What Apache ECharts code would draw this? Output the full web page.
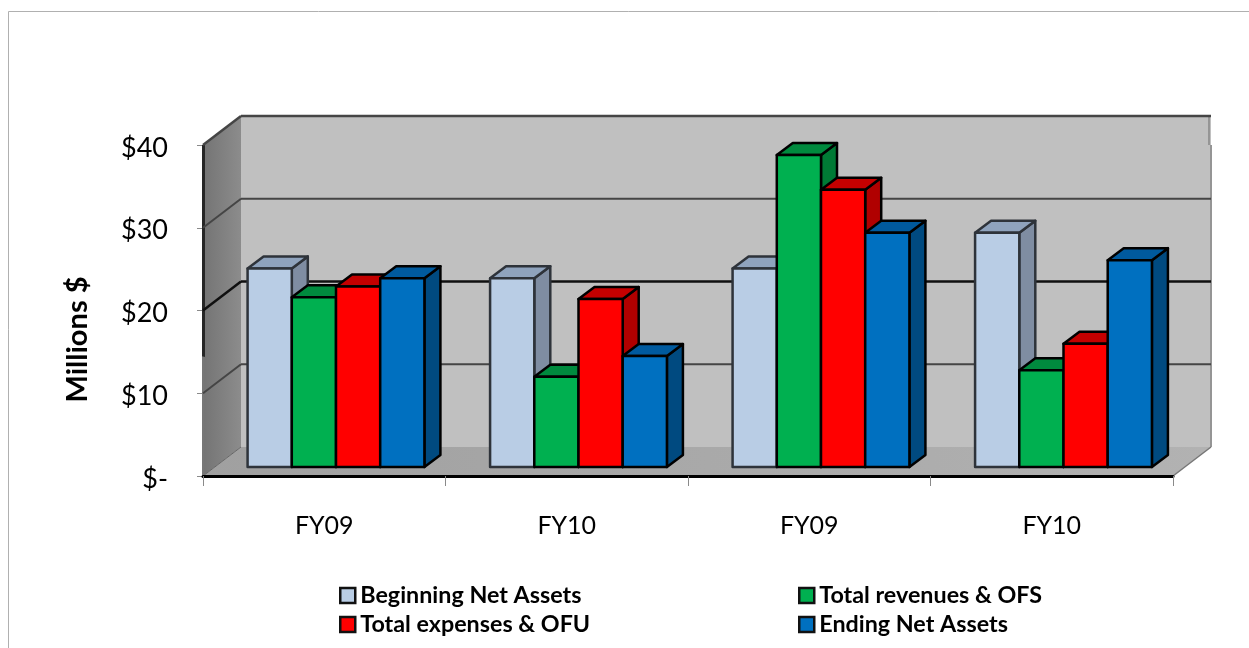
<!DOCTYPE html>
<html>
<head>
<meta charset="utf-8">
<style>html,body{margin:0;padding:0;background:#fff}#c{width:1249px;height:648px}</style>
<script src="https://cdn.jsdelivr.net/npm/echarts@6/dist/echarts.min.js"></script>
</head>
<body>
<div id="c"></div>
<script>
const categories = ['FY09', 'FY10', 'FY09', 'FY10'];
const beginningNetAssets = [24.0, 22.8, 24.0, 28.3];
const totalRevenues = [20.5, 10.9, 37.7, 11.7];
const totalExpenses = [21.8, 20.3, 33.5, 14.9];
const endingNetAssets = [22.8, 13.4, 28.3, 25.0];
const gridValues = [10, 20, 30, 40];

const WALL_DX = 38, WALL_DY = -29;     // depth of the 3D box
const PLANE_DX = 11.75, PLANE_DY = -9; // front plane of the bars inside the box
const BAR_DX = 16, BAR_DY = -12;       // depth of one bar
const BAR_FRAC = 0.1823;               // bar width as share of a category band

const chart = echarts.init(document.getElementById('c'), null, {renderer: 'canvas'});

function renderWalls(params, api) {
  const band = api.size([1, 0])[0];
  const x0 = api.coord([0, 0])[0] - band / 2;
  const x1 = api.coord([categories.length - 1, 0])[0] + band / 2;
  const y0 = api.coord([0, 0])[1];
  const y40 = api.coord([0, 40])[1];
  const dx = WALL_DX, dy = WALL_DY;
  const children = [
    {type: 'polygon', shape: {points: [[x0, y40], [x0 + dx, y40 + dy], [x0 + dx, y0 + dy], [x0, y0]]},
     style: {fill: new echarts.graphic.LinearGradient(0, 0, 1, 0, [{offset: 0, color: '#747474'}, {offset: 1, color: '#8c8c8c'}])}},
    {type: 'rect', shape: {x: x0 + dx, y: y40 + dy, width: x1 - x0, height: y0 - y40},
     style: {fill: '#c0c0c0'}},
    {type: 'polygon', shape: {points: [[x0, y0], [x0 + dx, y0 + dy], [x1 + dx, y0 + dy], [x1, y0]]},
     style: {fill: new echarts.graphic.LinearGradient(0, 0, 1, 0, [{offset: 0, color: '#a0a0a0'}, {offset: 1, color: '#b2b2b2'}])}},
    {type: 'line', shape: {x1: x1 + dx, y1: y40, x2: x1 + dx, y2: y0 + dy},
     style: {stroke: '#959595', lineWidth: 2, fill: null}},
    {type: 'line', shape: {x1: x1 + dx - 2, y1: y40 + dy, x2: x1 + dx - 2, y2: y40},
     style: {stroke: '#959595', lineWidth: 2, fill: null}},
    {type: 'line', shape: {x1: x1, y1: y0, x2: x1 + dx, y2: y0 + dy},
     style: {stroke: '#777777', lineWidth: 1.5, fill: null}},
    {type: 'line', shape: {x1: x0, y1: y0, x2: x0 + dx, y2: y0 + dy},
     style: {stroke: '#666666', lineWidth: 1, fill: null}},
    {type: 'line', shape: {x1: x0 + 0.5, y1: y40, x2: x0 + 0.5, y2: api.coord([0, 14.4])[1]},
     style: {stroke: '#262626', lineWidth: 3, fill: null}},
    {type: 'line', shape: {x1: x0, y1: api.coord([0, 14.4])[1], x2: x0, y2: y0},
     style: {stroke: '#777777', lineWidth: 2, fill: null}}
  ];
  gridValues.forEach(function (v) {
    const y = api.coord([0, v])[1];
    const stroke = v === 20 ? '#101010' : '#454545';
    const lw = v === 40 ? 2.5 : (v === 20 ? 2.5 : 2);
    children.push({type: 'line', shape: {x1: x0, y1: y, x2: x0 + dx, y2: y + dy}, style: {stroke: stroke, lineWidth: lw, fill: null}});
    children.push({type: 'line', shape: {x1: x0 + dx, y1: y + dy, x2: x1 + dx, y2: y + dy}, style: {stroke: stroke, lineWidth: lw, fill: null}});
  });
  return {type: 'group', children: children};
}

function barRenderer(slot, front, top, side, edge) {
  return function (params, api) {
    const cat = api.value(0);
    const c = api.coord([cat, api.value(1)]);
    const base = api.coord([cat, 0]);
    const w = api.size([1, 0])[0] * BAR_FRAC;
    const xl = c[0] + (slot - 2) * w + PLANE_DX;
    const xr = xl + w;
    const yt = c[1] + PLANE_DY;
    const yb = base[1] + PLANE_DY;
    const st = {stroke: edge, lineWidth: 2.5, lineJoin: 'round'};
    return {type: 'group', children: [
      {type: 'polygon', shape: {points: [[xr, yt], [xr + BAR_DX, yt + BAR_DY], [xr + BAR_DX, yb + BAR_DY], [xr, yb]]},
       style: Object.assign({fill: side}, st)},
      {type: 'polygon', shape: {points: [[xl, yt], [xl + BAR_DX, yt + BAR_DY], [xr + BAR_DX, yt + BAR_DY], [xr, yt]]},
       style: Object.assign({fill: top}, st)},
      {type: 'rect', shape: {x: xl, y: yt, width: w, height: yb - yt},
       style: Object.assign({fill: front}, st)}
    ]};
  };
}

function barSeries(name, values, slot, front, top, side, edge) {
  return {
    name: name, type: 'custom', coordinateSystem: 'cartesian2d', clip: false, silent: true,
    itemStyle: {color: front},
    encode: {x: 0, y: 1},
    renderItem: barRenderer(slot, front, top, side, edge),
    data: values.map(function (v, i) { return [i, v]; })
  };
}

const legendText = {fontFamily: 'Lato', fontWeight: 'bold', fontSize: 23.3, color: '#000'};
const legendItem = {borderColor: '#111', borderWidth: 2.5};

chart.setOption({
  animation: false,
  backgroundColor: '#fff',
  textStyle: {fontFamily: 'Lato'},
  graphic: [
    {type: 'line', shape: {x1: 8.5, y1: 11.5, x2: 1249, y2: 11.5}, style: {stroke: '#b0b0b0', lineWidth: 1}, silent: true},
    {type: 'line', shape: {x1: 8.5, y1: 11.5, x2: 8.5, y2: 648}, style: {stroke: '#b0b0b0', lineWidth: 1}, silent: true}
  ],
  grid: {left: 203, right: 76, top: 145, bottom: 172, containLabel: false},
  xAxis: {
    type: 'category', data: categories, boundaryGap: true,
    axisLine: {show: true, lineStyle: {color: '#000', width: 3}},
    axisTick: {show: true, alignWithLabel: false, length: 10, lineStyle: {color: '#8a8a8a', width: 1}},
    axisLabel: {show: true, interval: 0, margin: 37, fontFamily: 'Lato', fontSize: 25, color: '#000'},
    splitLine: {show: false}, z: 5
  },
  yAxis: {
    type: 'value', min: 0, max: 40, interval: 10,
    name: 'Millions $', nameLocation: 'middle', nameGap: 111, nameRotate: 90,
    nameTextStyle: {fontFamily: 'Lato', fontWeight: 'bold', fontSize: 29, color: '#000', padding: [0, 58, 0, 0]},
    axisLine: {show: false},
    axisTick: {show: true, length: 6, lineStyle: {color: '#8a8a8a', width: 1}},
    axisLabel: {margin: 35,
      formatter: function (v) { return '{t|' + (v === 0 ? '$-' : '$' + v) + '}'; },
      rich: {t: {fontFamily: 'Lato', fontSize: 27, color: '#000', padding: [6, 0, 0, 0]}}},
    splitLine: {show: false}
  },
  legend: [
    {left: 334, top: 579, orient: 'vertical', itemGap: 6, itemWidth: 15, itemHeight: 15, icon: 'rect', selectedMode: false,
     textStyle: legendText, itemStyle: legendItem, data: ['Beginning Net Assets', 'Total expenses & OFU']},
    {left: 793, top: 579, orient: 'vertical', itemGap: 6, itemWidth: 15, itemHeight: 15, icon: 'rect', selectedMode: false,
     textStyle: legendText, itemStyle: legendItem, data: ['Total revenues & OFS', 'Ending Net Assets']}
  ],
  series: [
    {type: 'custom', name: 'walls', coordinateSystem: 'cartesian2d', clip: false, silent: true, renderItem: renderWalls, data: [[0, 0]], encode: {x: 0, y: 1}},
    barSeries('Beginning Net Assets', beginningNetAssets, 0, '#b9cde5', '#8fa3bd', '#7f8da2', '#2e333a'),
    barSeries('Total revenues & OFS', totalRevenues, 1, '#00b050', '#008a3e', '#007a35', '#000'),
    barSeries('Total expenses & OFU', totalExpenses, 2, '#ff0000', '#c40000', '#b00000', '#000'),
    barSeries('Ending Net Assets', endingNetAssets, 3, '#0070c0', '#005a9e', '#004a80', '#000')
  ]
});
</script>
</body>
</html>
